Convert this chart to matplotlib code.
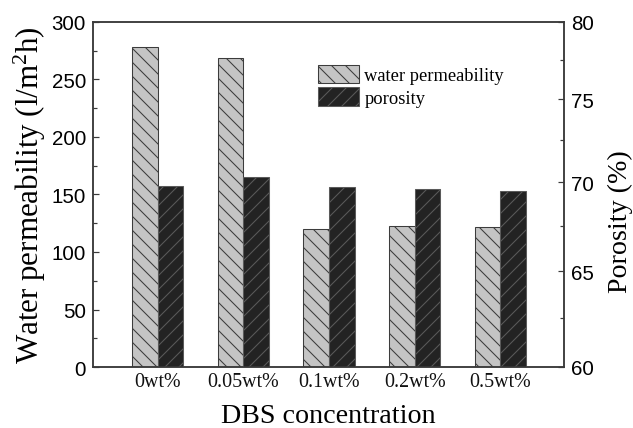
import numpy as np
import matplotlib
matplotlib.use("Agg")
import matplotlib.pyplot as plt
from matplotlib.ticker import FixedLocator, NullFormatter, FixedFormatter

# DBS loading vs. membrane flux and porosity
concentrations = ["0wt%", "0.05wt%", "0.1wt%", "0.2wt%", "0.5wt%"]
water_perm = [278, 268.5, 120, 122.5, 121.5]    # l/m2h
porosity = [69.8, 70.3, 69.7, 69.6, 69.5]       # %

perm_ticks = [0, 50, 100, 150, 200, 250, 300]
por_ticks = [60, 65, 70, 75, 80]
por_minor = [62.5, 67.5, 72.5, 77.5]

DPI = 84
def px(v):
    # sizes below are given in pixels of the saved image
    return v * 72.0 / DPI

plt.rcParams["hatch.linewidth"] = 0.9
plt.rcParams["mathtext.default"] = "regular"
serif = ["Liberation Serif", "DejaVu Serif"]
sans = ["Liberation Sans", "DejaVu Sans"]
axcol = "#3a3a3a"

fig = plt.figure(figsize=(633 / DPI, 429 / DPI), dpi=DPI)
ax = fig.add_axes([93 / 633, 1 - 368 / 429, (564 - 93) / 633, (368 - 23) / 429])
ax2 = ax.twinx()

x = np.arange(len(concentrations))
w = 0.30
b1 = ax.bar(x - w / 2, water_perm, w, color="#c4c4c4", edgecolor="#3c3c3c",
            hatch="\\\\", linewidth=0.9, label="water permeability")
b2 = ax2.bar(x + w / 2, np.array(porosity) - 60, w, bottom=60, color="#232323",
             edgecolor="#5a5a5a", hatch="//", linewidth=0.9, label="porosity")

ax.set_xlim(-0.755, 4.745)
ax.set_ylim(0, 300)
ax.set_yticks(perm_ticks)
ax.yaxis.set_minor_locator(FixedLocator([25, 75, 125, 175, 225, 275]))

# porosity axis is logarithmic between 60 and 80
ax2.set_yscale("log")
ax2.set_ylim(60, 80)
ax2.yaxis.set_major_locator(FixedLocator(por_ticks))
ax2.yaxis.set_major_formatter(FixedFormatter([str(t) for t in por_ticks]))
ax2.yaxis.set_minor_locator(FixedLocator(por_minor))
ax2.yaxis.set_minor_formatter(NullFormatter())

ax.set_xticks(x)
ax.set_xticklabels(concentrations, fontfamily=serif, fontsize=px(20))
ax.tick_params(axis="x", length=0, pad=px(5), colors="#111111")

for a in (ax, ax2):
    a.tick_params(axis="y", which="major", direction="in", length=px(6),
                  width=px(1.2), color=axcol, pad=px(7), labelsize=px(20.5))
    a.tick_params(axis="y", which="minor", direction="in", length=px(4),
                  width=px(1.2), color=axcol)
    for lbl in a.get_yticklabels():
        lbl.set_fontfamily(sans)
    for s in a.spines.values():
        s.set_color(axcol)
        s.set_linewidth(px(1.5))

ax.set_ylabel("Water permeability (l/m$^2$h)", fontfamily=serif,
              fontsize=px(31), labelpad=px(4))
ax2.set_ylabel("Porosity (%)", fontfamily=serif, fontsize=px(28))
ax2.yaxis.set_label_coords(1.093, 0.423)
ax.set_xlabel("DBS concentration", fontfamily=serif, fontsize=px(28),
              labelpad=px(12))

ax2.legend([b1, b2], ["water permeability", "porosity"], loc="upper left",
           bbox_to_anchor=(318 / 633, 1 - 66 / 429),
           bbox_transform=fig.transFigure, frameon=False, borderpad=0,
           borderaxespad=0, handlelength=2.2, handleheight=1.15,
           labelspacing=0.15, handletextpad=0.3,
           prop={"family": serif, "size": px(18.5)})

fig.savefig("out.png", dpi=DPI)
